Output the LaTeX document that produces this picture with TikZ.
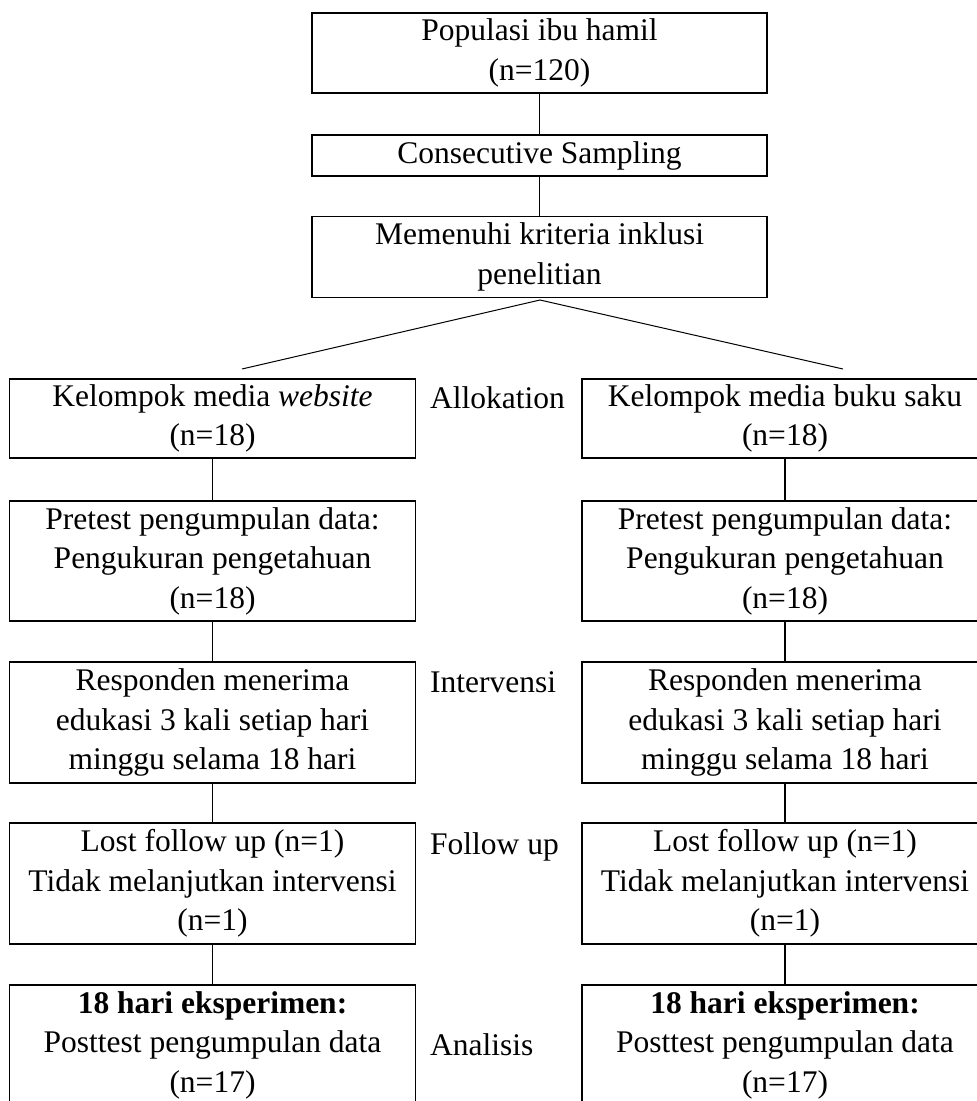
\documentclass[tikz,border=0pt]{standalone}
\usepackage{fontspec}
\setmainfont{Liberation Serif}
\begin{document}
\begin{tikzpicture}[x=1pt,y=-1pt,
  boxbase/.style={draw, line width=1.6pt, align=center, inner sep=0pt, outer sep=0pt,
    font=\fontsize{31.5}{39.5}\selectfont},
  topbox/.style={boxbase, minimum width=455pt},
  colbox/.style={boxbase, minimum width=406pt},
  sidelabel/.style={anchor=base west, inner sep=0pt, font=\fontsize{31.5}{39.5}\selectfont},
  conn/.style={line width=1.2pt},
  diag/.style={line width=1pt}]
\useasboundingbox (0,0) rectangle (977,1101);
\clip (0,0) rectangle (977,1101);
\fill[white] (0,0) rectangle (977,1101);

% central column
\node[topbox, minimum height=80pt] (pop) at (539.5,53) {Populasi ibu hamil\\(n=120)};
\node[topbox, minimum height=41pt] (cons) at (539.5,155.5) {Consecutive Sampling};
\node[topbox, minimum height=81pt] (mem) at (539.5,257) {Memenuhi kriteria inklusi\\penelitian};

% left column
\node[colbox, minimum height=79pt] (l1) at (212.5,418.5) {Kelompok media \textit{website}\\(n=18)};
\node[colbox, minimum height=120pt] (l2) at (212.5,561) {Pretest pengumpulan data:\\Pengukuran pengetahuan\\(n=18)};
\node[colbox, minimum height=121pt] (l3) at (212.5,722.5) {Responden menerima\\edukasi 3 kali setiap hari\\minggu selama 18 hari};
\node[colbox, minimum height=121pt] (l4) at (212.5,883.5) {Lost follow up (n=1)\\Tidak melanjutkan intervensi\\(n=1)};
\node[colbox, minimum height=120pt] (l5) at (212.5,1045) {\textbf{18 hari eksperimen:}\\Posttest pengumpulan data\\(n=17)};

% right column
\node[colbox, minimum height=79pt] (r1) at (785,418.5) {Kelompok media buku saku\\(n=18)};
\node[colbox, minimum height=120pt] (r2) at (785,561) {Pretest pengumpulan data:\\Pengukuran pengetahuan\\(n=18)};
\node[colbox, minimum height=121pt] (r3) at (785,722.5) {Responden menerima\\edukasi 3 kali setiap hari\\minggu selama 18 hari};
\node[colbox, minimum height=121pt] (r4) at (785,883.5) {Lost follow up (n=1)\\Tidak melanjutkan intervensi\\(n=1)};
\node[colbox, minimum height=120pt] (r5) at (785,1045) {\textbf{18 hari eksperimen:}\\Posttest pengumpulan data\\(n=17)};

% side labels
\node[sidelabel] (lab1) at (430,408) {Allokation};
\node[sidelabel] (lab2) at (430,692) {Intervensi};
\node[sidelabel] (lab3) at (430,854) {Follow up};
\node[sidelabel] (lab4) at (430,1055) {Analisis};

% connectors
\draw[conn] (pop.south) -- (cons.north);
\draw[conn] (cons.south) -- (mem.north);
\coordinate (apex) at (540,300);
\coordinate (dl) at (242,369);
\coordinate (dr) at (843,369);
\draw[diag] (dl) -- (apex) -- (dr);
\draw[conn] (l1.south) -- (l2.north);
\draw[conn] (l2.south) -- (l3.north);
\draw[conn] (l3.south) -- (l4.north);
\draw[conn] (l4.south) -- (l5.north);
\draw[conn] (r1.south) -- (r2.north);
\draw[conn] (r2.south) -- (r3.north);
\draw[conn] (r3.south) -- (r4.north);
\draw[conn] (r4.south) -- (r5.north);
\end{tikzpicture}
\end{document}
